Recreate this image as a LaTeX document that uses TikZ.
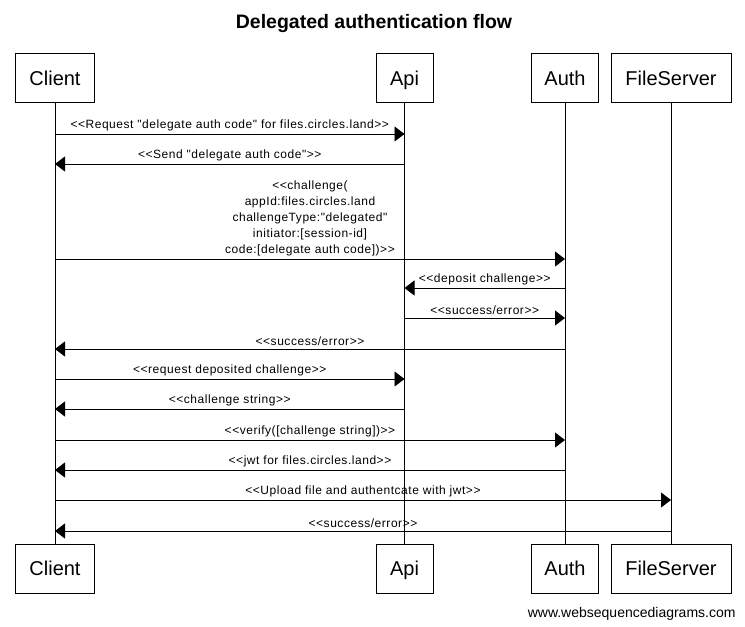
\documentclass[tikz,border=0pt]{standalone}
\usepackage{fontspec}
\setmainfont{Liberation Sans}
% no TeX ligatures here, so that << stays <<
\newfontfamily\wsdfont{Liberation Sans}
\newfontfamily\wsdlblfont[LetterSpace=4.5]{Liberation Sans}
\usetikzlibrary{arrows.meta}

\begin{document}
\begin{tikzpicture}[x=1pt,y=-1pt,>={Triangle[length=10pt,width=15pt]},
                    line width=0.9pt]
	\tikzstyle{actor}=[draw, minimum height=49pt, inner sep=0pt, text height=18.5pt, text depth=4pt, font=\wsdfont\fontsize{20}{24}\selectfont]
	\tikzstyle{msg}=[->]
	\tikzstyle{lbl}=[anchor=south, inner xsep=0pt, inner ysep=2.5pt, align=center, font=\wsdlblfont\fontsize{12}{16}\selectfont]

	\useasboundingbox (0,0) rectangle (745,627);

	\node[font=\wsdfont\bfseries\fontsize{19.5}{22}\selectfont] (title) at (374,23.5) {Delegated authentication flow};

	% participants, top and bottom
	\node[actor, minimum width=79pt]  (client)  at (55,78)    {Client};
	\node[actor, minimum width=57pt]  (api)     at (404.5,78) {Api};
	\node[actor, minimum width=67pt]  (auth)    at (565,78)   {Auth};
	\node[actor, minimum width=120pt] (fs)      at (671,78)   {FileServer};
	\node[actor, minimum width=79pt]  (client2) at (55,568.5)    {Client};
	\node[actor, minimum width=57pt]  (api2)    at (404.5,568.5) {Api};
	\node[actor, minimum width=67pt]  (auth2)   at (565,568.5)   {Auth};
	\node[actor, minimum width=120pt] (fs2)     at (671,568.5)   {FileServer};

	% lifelines
	\foreach \p in {client,api,auth,fs}
		\draw (\p.south) -- (\p2.north);

	% messages
	\foreach \y/\a/\b/\t [count=\i] in {
		134/client/api/{<<Request "delegate auth code" for files.circles.land>>},
		164/api/client/{<<Send "delegate auth code">>},
		259/client/auth/{<<challenge(\\ appId:files.circles.land\\ challengeType:"delegated"\\ initiator:[session-id]\\ code:[delegate auth code])>>},
		288/auth/api/{<<deposit challenge>>},
		318/api/auth/{<<success/error>>},
		349/auth/client/{<<success/error>>},
		379/client/api/{<<request deposited challenge>>},
		409/api/client/{<<challenge string>>},
		440/client/auth/{<<verify([challenge string])>>},
		470/auth/client/{<<jwt for files.circles.land>>},
		500/client/fs/{<<Upload file and authentcate with jwt>>},
		531/fs/client/{<<success/error>>}}
	{
		\coordinate (s\i) at (\a |- 0,\y);
		\coordinate (e\i) at (\b |- 0,\y);
		\draw[msg] (s\i) -- node[lbl] {\t} (e\i);
	}

	\node[anchor=east, inner sep=0pt, font=\wsdfont\fontsize{14}{16}\selectfont] (credit) at (736,613.5) {www.websequencediagrams.com};
\end{tikzpicture}
\end{document}
